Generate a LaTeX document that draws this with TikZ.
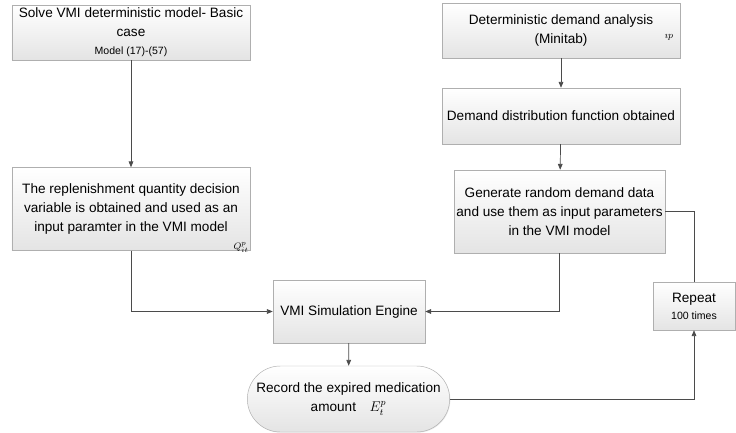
\documentclass[tikz,border=0pt]{standalone}
\usepackage{amsmath,amssymb}
\usepackage{fontspec}
\setmainfont{Liberation Sans}
\usepackage{tikz}
\usetikzlibrary{arrows.meta}
\usetikzlibrary{shapes.misc}
\usetikzlibrary{shadows}
\usepackage{xcolor}
\definecolor{BoxLine}{RGB}{175,175,175}
\definecolor{BoxFill}{RGB}{228,228,228}
\definecolor{FlowCol}{RGB}{75,75,75}
\tikzstyle{StepBox}=[rectangle,draw=BoxLine,top color=white,bottom color=BoxFill,
drop shadow={opacity=0.18,shadow xshift=0.6pt,shadow yshift=-0.6pt},
align=center,inner sep=2pt,font=\fontsize{11.6}{16.4}\selectfont]
\tikzstyle{RecordBox}=[StepBox,rounded rectangle]
\tikzstyle{FlowArrow}=[FlowCol,line width=0.6pt,-{Triangle[length=5pt,width=4pt]}]
\tikzstyle{FlowLine}=[FlowCol,line width=0.6pt]
\tikzstyle{VarMark}=[inner sep=0pt]
\newcommand{\smalltxt}[1]{{\fontsize{9}{12}\selectfont #1}}

\begin{document}
\begin{tikzpicture}[x=0.03cm,y=-0.03cm]
        \useasboundingbox (0,0) rectangle (736,433);
        \node[StepBox,minimum width=7.14cm,minimum height=1.65cm](solve)at(131,32.5)
            {Solve VMI deterministic model- Basic\\case\\[-1pt]\smalltxt{Model (17)-(57)}};
        \node[StepBox,minimum width=7.14cm,minimum height=2.49cm](repl)at(131,209)
            {The replenishment quantity decision\\variable is obtained and used as an\\input paramter in the VMI model};
        \node[VarMark,font=\footnotesize](qvar)at(241,247.5){$Q^p_{it}$};
        \node[StepBox,minimum width=7.14cm,minimum height=1.65cm](analysis)at(561,30.5)
            {Deterministic demand analysis\\(Minitab)};
        \node[VarMark,font=\footnotesize](dvar)at(669,37){$\imath p$};
        \node[StepBox,minimum width=7.14cm,minimum height=1.68cm](distr)at(561,116)
            {Demand distribution function obtained};
        \node[StepBox,minimum width=6.21cm,minimum height=2.49cm](gen)at(559.5,211.5)
            {Generate random demand data\\and use them as input parameters\\in the VMI model};
        \node[StepBox,minimum width=4.56cm,minimum height=1.89cm](engine)at(349,311.5)
            {VMI Simulation Engine};
        \node[RecordBox,minimum width=6.21cm,minimum height=1.98cm](record)at(348.5,399)
            {Record the expired medication\\amount\quad $E^p_t$};
        \node[StepBox,minimum width=2.46cm,minimum height=1.44cm](repeat)at(694,306)
            {Repeat\\[-2pt]\smalltxt{100 times}};
        \draw[FlowArrow](solve)--(repl);
        \draw[FlowArrow](repl.south)|-(engine.west);
        \draw[FlowArrow](analysis)--(distr);
        \draw[FlowArrow](distr)--(gen);
        \draw[FlowArrow](gen.south)|-(engine.east);
        \draw[FlowArrow](engine)--(record);
        \draw[FlowArrow](record.east)-|(repeat.south);
        \draw[FlowLine](repeat.north)|-(gen.east);
    \end{tikzpicture}
\end{document}
